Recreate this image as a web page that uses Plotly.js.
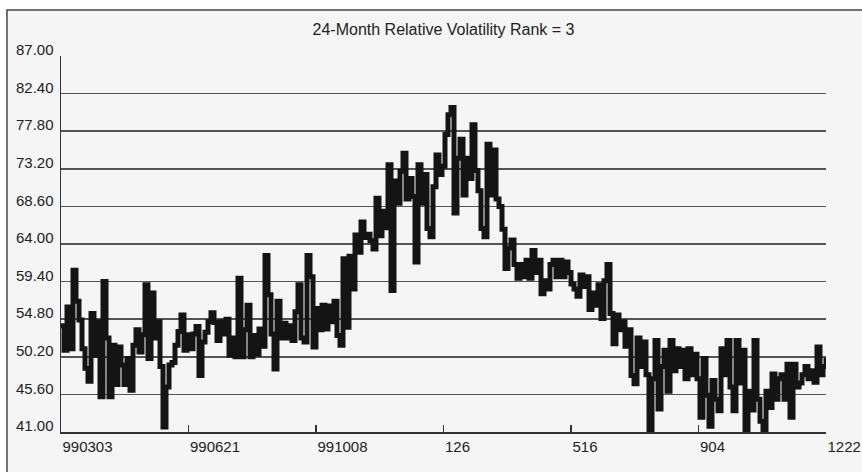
<!DOCTYPE html>
<html>
<head>
<meta charset="utf-8">
<script src="https://cdn.plot.ly/plotly-3.0.1.min.js"></script>
<style>
  html, body { margin: 0; padding: 0; background: #ffffff; }
  #chart { width: 862px; height: 472px; }
</style>
</head>
<body>
<div id="chart"></div>
<script>
// Chart title
const chartTitle = '24-Month Relative Volatility Rank = 3';

// X tick labels (dates, evenly spaced along the trading-day axis)
const xTickLabels = ['990303', '990621', '991008', '126', '516', '904', '1222'];

// Y tick values
const yTickValues = [41.00, 45.60, 50.20, 54.80, 59.40, 64.00, 68.60, 73.20, 77.80, 82.40, 87.00];

// Relative volatility series (in time order)
const seg1 = [54.0, 51.0, 56.3, 51.2, 60.8, 57.0, 54.7, 51.2, 48.8, 47.2, 55.5, 50.4, 54.5, 45.3, 59.4, 52.5, 45.3, 51.6, 46.8, 51.4, 49.2, 46.8, 50.0, 46.1, 51.6, 53.5, 50.8, 52.9, 59.0, 50.0, 58.0, 52.5, 54.5, 49.0, 41.6, 46.5, 49.2, 49.5, 51.6, 53.3, 55.3, 51.0, 52.9];
const seg2 = [51.2, 53.0, 53.9, 47.9, 52.0, 53.2, 54.5, 55.6, 54.4, 52.2, 54.5, 53.0, 54.8, 50.4, 52.5, 50.2, 59.8, 50.2, 53.5, 56.5, 50.2, 52.8, 50.5, 53.6, 51.5, 62.6, 57.8, 53.0, 48.7, 57.0, 52.5, 54.3, 52.5, 54.0, 52.2, 55.7, 59.0, 52.5, 52.0, 62.6, 60.0, 51.4, 56.1];
const seg3 = [53.5, 56.5, 53.6, 56.4, 54.5, 57.0, 52.8, 51.6, 62.2, 53.8, 62.5, 58.5, 65.1, 63.0, 66.7, 64.8, 65.2, 64.4, 63.4, 69.6, 65.0, 68.0, 66.0, 73.7, 58.3, 71.7, 69.0, 72.9, 75.1, 69.5, 72.0, 69.8, 61.8, 73.7, 69.0, 72.5, 65.9, 64.9, 71.0, 74.9, 72.5, 73.5, 77.4];
const seg4 = [79.8, 80.7, 67.8, 74.5, 76.8, 70.0, 74.5, 72.0, 78.6, 73.0, 70.5, 65.9, 64.9, 76.2, 70.0, 75.5, 69.5, 68.6, 65.8, 61.0, 63.5, 64.5, 61.5, 59.8, 61.5, 60.0, 62.0, 59.8, 63.2, 60.5, 62.0, 57.9, 59.5, 58.5, 61.5, 62.0, 60.0, 62.0, 60.0, 61.8, 60.5, 59.1];
const seg5 = [58.5, 57.6, 60.2, 58.8, 60.0, 56.0, 58.0, 56.5, 59.0, 54.9, 59.5, 61.5, 55.5, 51.8, 55.3, 53.5, 54.5, 51.5, 53.5, 47.9, 46.9, 52.5, 49.0, 52.0, 48.0, 40.9, 47.5, 52.2, 43.8, 49.0, 51.0, 46.0, 52.2, 48.5, 51.2, 49.0, 51.0, 47.5, 51.2, 48.0, 50.5, 47.5, 42.8];
const seg6 = [50.0, 45.5, 41.7, 47.3, 45.0, 43.6, 51.2, 48.0, 52.2, 46.5, 43.6, 52.2, 47.0, 51.0, 40.9, 46.0, 43.7, 52.2, 45.0, 42.3, 40.9, 46.0, 44.0, 48.1, 45.0, 47.5, 48.0, 45.0, 49.3, 42.8, 49.3, 46.5, 47.0, 48.0, 49.0, 47.5, 48.5, 47.1, 51.4, 48.0, 49.0, 50.1];

const values = [].concat(seg1, seg2, seg3, seg4, seg5, seg6);
const dayIndex = values.map((_, i) => i);
const lastIndex = values.length - 1;
const xTickVals = xTickLabels.map((_, k) => k * lastIndex / (xTickLabels.length - 1));

const FONT = '"Liberation Sans", Arial, sans-serif';

const trace = {
  type: 'scatter',
  mode: 'lines',
  x: dayIndex,
  y: values,
  line: { color: '#141414', width: 5, shape: 'hv' },
  hoverinfo: 'skip'
};

const layout = {
  width: 862,
  height: 472,
  margin: { l: 61, r: 36, t: 56, b: 40, pad: 0 },
  paper_bgcolor: '#ffffff',
  plot_bgcolor: 'rgba(0,0,0,0)',
  showlegend: false,
  title: {
    text: chartTitle,
    x: 0.5,
    xref: 'paper',
    xanchor: 'center',
    y: 1 - 29 / 472,
    yref: 'container',
    yanchor: 'middle',
    font: { family: FONT, size: 16, color: '#222222' }
  },
  shapes: [{
    type: 'rect', xref: 'paper', yref: 'paper',
    x0: -0.0706, x1: 1.2, y0: -0.3, y1: 1.1223,
    fillcolor: '#f5f5f5',
    line: { color: '#444444', width: 1.5 },
    layer: 'below'
  }],
  xaxis: {
    range: [0, lastIndex],
    tickmode: 'array',
    tickvals: xTickVals,
    ticktext: xTickLabels,
    ticks: 'inside',
    ticklen: 7,
    tickwidth: 1.5,
    tickcolor: '#333333',
    showline: true,
    linecolor: '#333333',
    linewidth: 1.5,
    showgrid: false,
    zeroline: false,
    ticklabelposition: 'outside right',
    ticklabeloverflow: 'allow',
    tickfont: { family: FONT, size: 15, color: '#222222' },
    fixedrange: true
  },
  yaxis: {
    range: [41, 87],
    tickmode: 'array',
    tickvals: yTickValues,
    ticktext: yTickValues.map(v => v.toFixed(2)),
    ticks: '',
    showline: true,
    linecolor: '#333333',
    linewidth: 1.5,
    showgrid: true,
    gridcolor: '#555555',
    gridwidth: 1.5,
    zeroline: false,
    ticklabelshift: -6,
    ticklabelstandoff: 3,
    ticklabeloverflow: 'allow',
    tickfont: { family: FONT, size: 15, color: '#222222' },
    fixedrange: true
  }
};

Plotly.newPlot('chart', [trace], layout, { displayModeBar: false, staticPlot: true });
</script>
</body>
</html>
